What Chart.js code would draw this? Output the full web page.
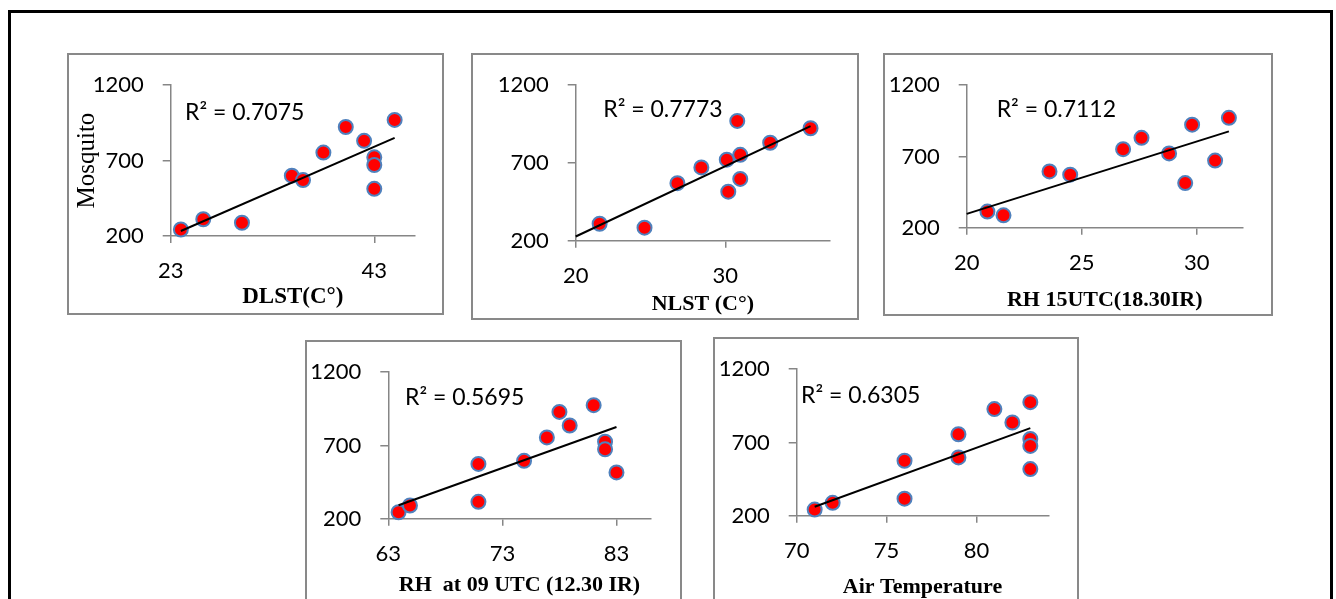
<!DOCTYPE html>
<html><head><meta charset="utf-8">
<script src="https://cdn.jsdelivr.net/npm/chart.js@4.4.0/dist/chart.umd.min.js"></script>
<style>
html,body{margin:0;padding:0;background:#fff;overflow:hidden;width:1336px;height:599px;}
#outer{position:absolute;left:8px;top:10px;width:1325px;height:660px;border:3px solid #000;box-sizing:border-box;}
.box{position:absolute;border:2px solid #898989;box-sizing:border-box;background:#fff;}
canvas{position:absolute;}
</style></head><body>
<div id="outer"></div>
<script>
// ---- data ----
const yTicks = [200, 700, 1200];

const dlstX = [24.0, 26.2, 30.0, 34.9, 36.0, 38.0, 40.2, 42.0, 43.0, 43.0, 43.0, 45.0];
const dlstY = [243, 311, 288, 600, 571, 753, 923, 831, 722, 671, 513, 970];
const dlstTrendX = [24, 45];
const dlstTrendY = [233, 851];
const dlstTicks = [23, 43];

const nlstX = [21.6, 24.6, 26.8, 28.4, 30.1, 30.2, 31.0, 31.0, 30.8, 33.0, 35.7];
const nlstY = [309, 284, 570, 671, 721, 515, 752, 597, 970, 830, 923];
const nlstTrendX = [20, 35.7];
const nlstTrendY = [227, 937];
const nlstTicks = [20, 30];

const rh15X = [20.9, 21.6, 23.6, 24.5, 26.8, 27.6, 28.8, 29.5, 29.8, 30.8, 31.4];
const rh15Y = [313, 287, 595, 572, 751, 831, 721, 513, 923, 671, 971];
const rh15TrendX = [20, 31.4];
const rh15TrendY = [297, 876];
const rh15Ticks = [20, 25, 30];

const rh09X = [63.9, 64.9, 70.9, 70.9, 74.9, 76.9, 78.0, 78.9, 81.0, 82.0, 82.0, 83.0];
const rh09Y = [244, 290, 574, 315, 595, 755, 929, 836, 975, 726, 674, 516];
const rh09TrendX = [63.9, 83];
const rh09TrendY = [292, 826];
const rh09Ticks = [63, 73, 83];

const airX = [71, 72, 76, 76, 79, 79, 81, 82, 83, 83, 83, 83];
const airY = [242, 288, 575, 316, 756, 598, 928, 836, 975, 724, 676, 518];
const airTrendX = [71, 83];
const airTrendY = [261, 798];
const airTicks = [70, 75, 80];

const r2Labels = ['R\u00B2 = 0.7075', 'R\u00B2 = 0.7773', 'R\u00B2 = 0.7112', 'R\u00B2 = 0.5695', 'R\u00B2 = 0.6305'];
const xTitles = ['DLST(C\u00B0)', 'NLST (C\u00B0)', 'RH 15UTC(18.30IR)', 'RH  at 09 UTC (12.30 IR)', 'Air Temperature'];
const yTitle = 'Mosquito';

// ---- layout (page pixels) ----
const panels = [
  {x: dlstX, y: dlstY, tx: dlstTrendX, ty: dlstTrendY, ticks: dlstTicks, xmin: 23, xmax: 47,
   box: {L: 67, T: 53, R: 444, B: 315}, plot: {l: 170.7, r: 415, t: 73.3, b: 236}, titleY: 297.3, titleSize: 23,
   r2: {dx: 14.3, dy: 27}, yTitle: true},
  {x: nlstX, y: nlstY, tx: nlstTrendX, ty: nlstTrendY, ticks: nlstTicks, xmin: 20, xmax: 37,
   box: {L: 471, T: 53, R: 859, B: 320}, plot: {l: 575.7, r: 830, t: 69.3, b: 240.7}, titleY: 304.7, titleSize: 22,
   r2: {dx: 27.6, dy: 24}},
  {x: rh15X, y: rh15Y, tx: rh15TrendX, ty: rh15TrendY, ticks: rh15Ticks, xmin: 20, xmax: 32,
   box: {L: 883, T: 53, R: 1273, B: 316}, plot: {l: 966.7, r: 1242.7, t: 73.3, b: 227.7}, titleY: 300, titleSize: 22,
   r2: {dx: 30, dy: 24.4}},
  {x: rh09X, y: rh09Y, tx: rh09TrendX, ty: rh09TrendY, ticks: rh09Ticks, xmin: 63, xmax: 86,
   box: {L: 305, T: 340, R: 682, B: 620}, plot: {l: 388.3, r: 650.7, t: 358.3, b: 518.7}, titleY: 585, titleSize: 22,
   r2: {dx: 16.7, dy: 25}},
  {x: airX, y: airY, tx: airTrendX, ty: airTrendY, ticks: airTicks, xmin: 70, xmax: 84,
   box: {L: 713, T: 337, R: 1079, B: 620}, plot: {l: 796.7, r: 1048.3, t: 357.3, b: 515.7}, titleY: 587.3, titleSize: 22,
   r2: {dx: 4.3, dy: 26}}
];

const AXIS = '#868686';
const TICKFONT = {family: 'Lato', size: 22};

const r2Plugin = {
  id: 'r2label',
  afterDatasetsDraw(chart, args, opts) {
    const ctx = chart.ctx, a = chart.chartArea;
    ctx.save();
    ctx.font = '23px Lato';
    ctx.fillStyle = '#000';
    ctx.textAlign = 'left';
    ctx.textBaseline = 'middle';
    ctx.fillText(opts.text, a.left + opts.dx, a.top + opts.dy);
    ctx.restore();
  }
};

panels.forEach((p, i) => {
  const W = p.box.R - p.box.L, H = p.box.B - p.box.T;
  const box = document.createElement('div');
  box.className = 'box';
  Object.assign(box.style, {left: p.box.L + 'px', top: p.box.T + 'px', width: W + 'px', height: H + 'px'});
  document.body.appendChild(box);
  const cv = document.createElement('canvas');
  cv.width = W; cv.height = H;
  Object.assign(cv.style, {left: p.box.L + 'px', top: p.box.T + 'px', width: W + 'px', height: H + 'px'});
  document.body.appendChild(cv);

  const yW = p.plot.l - p.box.L;
  const xH = p.box.B - p.plot.b;
  const titleLH = p.titleSize * 1.2;
  const titlePadB = Math.max(0, (p.box.B - p.titleY) - titleLH / 2);

  const pts = p.x.map((v, k) => ({x: v, y: p.y[k]}));
  const trend = p.tx.map((v, k) => ({x: v, y: p.ty[k]}));

  new Chart(cv, {
    type: 'scatter',
    data: {
      datasets: [
        {type: 'line', data: trend, borderColor: '#000', borderWidth: 2, pointRadius: 0, fill: false, order: 0, clip: false},
        {data: pts, backgroundColor: '#ff0000', borderColor: '#4f81bd', borderWidth: 2, pointRadius: 7, order: 1, clip: false}
      ]
    },
    options: {
      responsive: false, animation: false, devicePixelRatio: 1,
      layout: {padding: {left: 0, top: p.plot.t - p.box.T, right: p.box.R - p.plot.r, bottom: 0}},
      plugins: {legend: {display: false}, tooltip: {enabled: false},
        r2label: {text: r2Labels[i], dx: p.r2.dx, dy: p.r2.dy}},
      scales: {
        x: {
          type: 'linear', min: p.xmin, max: p.xmax,
          afterBuildTicks: s => { s.ticks = p.ticks.map(v => ({value: v})); },
          afterFit: s => { s.height = xH; },
          grid: {drawOnChartArea: false, drawTicks: true, tickLength: 7, color: AXIS, lineWidth: 1.5},
          border: {display: true, color: AXIS, width: 1.5},
          ticks: {font: TICKFONT, color: '#000', padding: 15, maxRotation: 0, autoSkip: false, callback: v => String(v)},
          title: {display: true, text: xTitles[i], color: '#000',
            font: {family: 'Liberation Serif', size: p.titleSize, weight: 'bold'}, padding: {top: 0, bottom: titlePadB}}
        },
        y: {
          type: 'linear', min: 200, max: 1200,
          afterBuildTicks: s => { s.ticks = yTicks.map(v => ({value: v})); },
          afterFit: s => { s.width = yW; },
          grid: {drawOnChartArea: false, drawTicks: true, tickLength: 8, color: AXIS, lineWidth: 1.5},
          border: {display: true, color: AXIS, width: 1.5},
          ticks: {font: TICKFONT, color: '#000', padding: 19, autoSkip: false, callback: v => String(v)},
          title: {display: !!p.yTitle, text: yTitle, color: '#000',
            font: {family: 'Liberation Serif', size: 25, weight: 'normal'}, padding: {top: 5, bottom: 0}}
        }
      }
    },
    plugins: [r2Plugin]
  });
});
</script>
</body></html>
